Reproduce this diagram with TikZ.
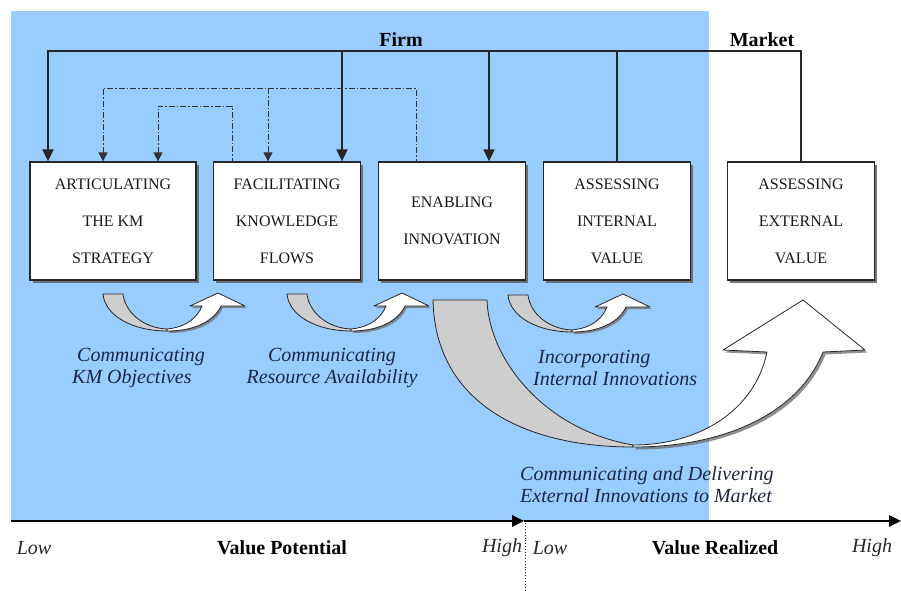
\documentclass[tikz,border=0pt]{standalone}
\usepackage{fontspec}
\setmainfont{Liberation Serif}
\usepackage{tikz}
\usetikzlibrary{positioning}
\usetikzlibrary{arrows.meta}
\usetikzlibrary{shadows}

\definecolor{firmblue}{RGB}{153,204,255}
\definecolor{flownavy}{RGB}{28,38,66}
\definecolor{ribbongray}{RGB}{206,206,206}

\tikzset{
    kmbox/.style={draw=black!85, line width=1.3pt, fill=white,
        minimum width=147pt, minimum height=118pt, inner sep=0pt,
        align=center, text=black!90, font=\fontsize{16}{37}\selectfont,
        drop shadow={shadow xshift=2.5pt, shadow yshift=-2.5pt,
            fill=black!60, opacity=0.9}},
    link/.style={line width=1.8pt, draw=black!85, line join=miter},
    dlink/.style={line width=0.9pt, draw=black!80,
        dash pattern=on 6pt off 2pt on 1.5pt off 2pt},
    flowtxt/.style={text=flownavy, inner sep=0pt,
        font=\fontsize{20}{22}\selectfont\itshape},
    axistxt/.style={inner sep=0pt, font=\fontsize{20}{22}\selectfont\bfseries},
    ribbon/.style={draw=black!85, line width=0.8pt, line join=round}
}

% twisted flow arrow between two boxes
\newcommand{\smallflow}[2]{
    \begin{scope}[shift={(#1,#2)}]
        \filldraw[ribbon, fill=ribbongray]
        (0,0) -- (20,0) .. controls (22,18) and (40,34) .. (64,35)
        -- (64,37) .. controls (30,37) and (2,22) .. (0,0) -- cycle;
        \filldraw[ribbon, fill=white,
            drop shadow={shadow xshift=2pt, shadow yshift=-2pt,
                fill=black!55, opacity=0.8}]
        (64,35) .. controls (85,33) and (95,22) .. (99,12)
        -- (87,12) -- (115,-1) -- (142,12) -- (118,12)
        .. controls (112,25) and (95,37) .. (64,37) -- cycle;
    \end{scope}
}

\begin{document}
\begin{tikzpicture}[x=1pt, y=-1pt]
        \useasboundingbox (0,0) rectangle (901,590);

        \fill[firmblue] (11,11) rectangle (709,521);

        \node[axistxt] (firm) at (401,40) {Firm};
        \node[axistxt] (market) at (762,40) {Market};

        \node[kmbox, minimum width=166pt] (kms) at (113,221)
        {ARTICULATING\\THE KM\\STRATEGY};
        \node[kmbox] (fkf) at (287,221)
        {FACILITATING\\KNOWLEDGE\\FLOWS};
        \node[kmbox] (ena) at (452,221)
        {ENABLING\\INNOVATION};
        \node[kmbox] (aiv) at (617,221)
        {ASSESSING\\INTERNAL\\VALUE};
        \node[kmbox] (aev) at (801,221)
        {ASSESSING\\EXTERNAL\\VALUE};

        % firm / market feedback
        \coordinate (t1) at (48,51);
        \coordinate (t2) at (342,51);
        \coordinate (t3) at (489,51);
        \coordinate (t4) at (617,51);
        \coordinate (t5) at (801,51);

        \draw[link, {Triangle[length=12pt, width=11pt]}-]
        (t1 |- kms.north) -- (t1) -- (t5) -- (t5 |- aev.north);
        \draw[link, -{Triangle[length=12pt, width=11pt]}]
        (t2) -- (t2 |- fkf.north);
        \draw[link, -{Triangle[length=12pt, width=11pt]}]
        (t3) -- (t3 |- ena.north);
        \draw[link] (t4) -- (aiv.north);

        \coordinate (d1) at (103,88);
        \coordinate (d2) at (268,88);
        \coordinate (d3) at (416,88);
        \coordinate (e1) at (158,106);
        \coordinate (e2) at (232,106);

        \draw[dlink, {Triangle[length=9pt, width=9pt]}-]
        (d1 |- kms.north) -- (d1) -- (d3) -- (d3 |- ena.north);
        \draw[dlink, -{Triangle[length=9pt, width=9pt]}]
        (d2) -- (d2 |- fkf.north);
        \draw[dlink, {Triangle[length=9pt, width=9pt]}-]
        (e1 |- kms.north) -- (e1) -- (e2) -- (e2 |- fkf.north);

        \smallflow{103}{294}
        \smallflow{287}{294}
        \smallflow{508}{295}

        % big flow to the market
        \filldraw[ribbon, fill=ribbongray]
        (433,300) -- (487,300) .. controls (489,360) and (545,430) .. (633,445)
        -- (633,447) .. controls (520,447) and (435,400) .. (433,300) -- cycle;
        \filldraw[ribbon, fill=white,
            drop shadow={shadow xshift=2.5pt, shadow yshift=-2.5pt,
                fill=black!55, opacity=0.8}]
        (633,445) .. controls (700,445) and (755,410) .. (767,352)
        -- (723,350) -- (803,300) -- (865,350) -- (823,352)
        .. controls (800,410) and (730,447) .. (633,447) -- cycle;

        \node[flowtxt, align=left, anchor=west] (f1) at (72,368)
        {\hspace*{5pt}Communicating\\KM Objectives};
        \node[flowtxt, align=center] (f2) at (332,368)
        {Communicating\\Resource Availability};
        \node[flowtxt, align=left, anchor=west] (f3) at (533,368)
        {\hspace*{5pt}Incorporating\\Internal Innovations};
        \node[flowtxt, align=left, anchor=west] (f4) at (520,485)
        {Communicating and Delivering\\External Innovations to Market};

        % value axis
        \coordinate (ax0) at (11,521);
        \coordinate (axm) at (524,521);
        \coordinate (ax1) at (901,521);
        \coordinate (dv0) at (525,523);
        \coordinate (dv1) at (525,590);

        \draw[line width=2.6pt, -{Triangle[length=12pt, width=11pt]}]
        (ax0) -- (axm);
        \draw[line width=2.6pt, -{Triangle[length=12pt, width=11pt]}]
        (axm) -- (ax1);
        \draw[dotted, line width=0.9pt] (dv0) -- (dv1);

        \node[flowtxt, text=black!85] (lo1) at (34,548) {Low};
        \node[axistxt] (vp) at (282,548) {Value Potential};
        \node[flowtxt, text=black!85] (hi1) at (502,548) {High};
        \node[flowtxt, text=black!85] (lo2) at (550,548) {Low};
        \node[axistxt] (vr) at (715,548) {Value Realized};
        \node[flowtxt, text=black!85] (hi2) at (872,548) {High};
\end{tikzpicture}
\end{document}
